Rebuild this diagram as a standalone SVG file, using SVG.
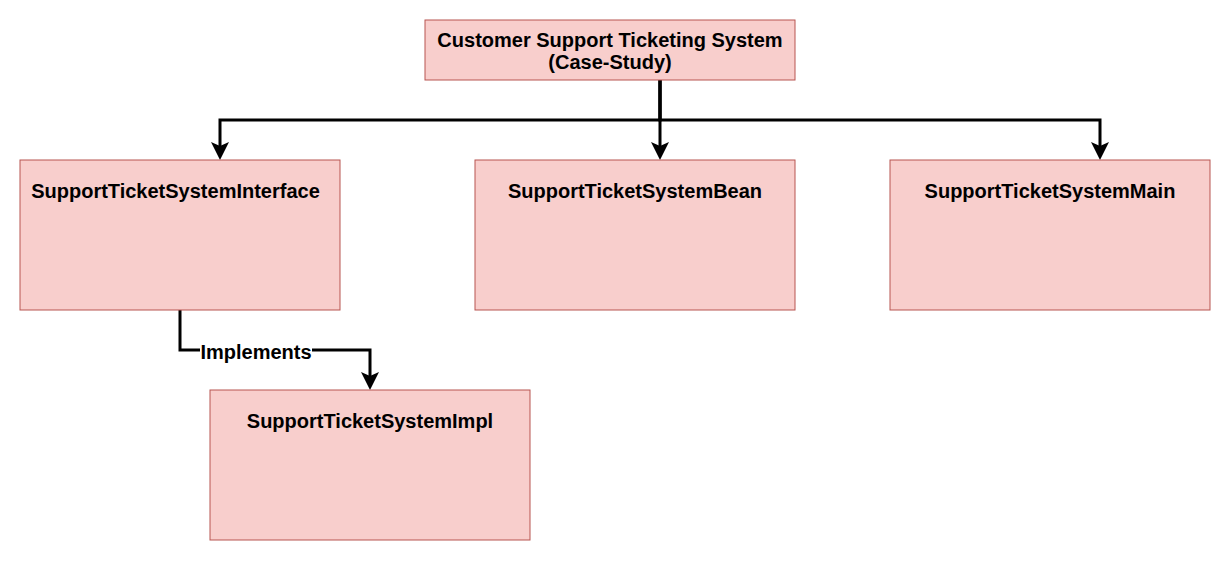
<svg xmlns="http://www.w3.org/2000/svg" width="1231" height="561" viewBox="0 0 1231 561">
  <style>
    .box { fill: #f8cecc; stroke: #b85450; stroke-width: 1; }
    .lbl { font-family: "Liberation Sans", Arial, sans-serif; font-weight: bold; font-size: 20px; fill: #000; text-anchor: middle; }
    .edge { fill: none; stroke: #000; stroke-width: 3; stroke-linejoin: miter; }
  </style>
  <defs>
    <marker id="arr" markerUnits="userSpaceOnUse" markerWidth="18" markerHeight="18" viewBox="0 0 18 18" refX="12" refY="9" orient="auto">
      <path d="M0,0 L18,9 L0,18 L4,9 Z" fill="#000"/>
    </marker>
  </defs>
  <rect width="1231" height="561" fill="#ffffff"/>

  <g id="connectors">
    <path class="edge" d="M660,80 V154" marker-end="url(#arr)"/>
    <path class="edge" d="M660,80 V120 H220 V154" marker-end="url(#arr)"/>
    <path class="edge" d="M660,80 V120 H1100 V154" marker-end="url(#arr)"/>
    <path class="edge" d="M180,310 V350 H370 V384" marker-end="url(#arr)"/>
    <rect x="200" y="340" width="112" height="22" fill="#ffffff"/>
    <text class="lbl" x="256" y="359">Implements</text>
  </g>

  <g id="root">
    <rect class="box" x="425" y="20" width="370" height="60"/>
    <text class="lbl" x="610" y="47">Customer Support Ticketing System</text>
    <text class="lbl" x="610" y="69">(Case-Study)</text>
  </g>

  <g id="interface">
    <rect class="box" x="20" y="160" width="320" height="150"/>
    <text class="lbl" x="175.5" y="198">SupportTicketSystemInterface</text>
  </g>

  <g id="bean">
    <rect class="box" x="475" y="160" width="320" height="150"/>
    <text class="lbl" x="635" y="198">SupportTicketSystemBean</text>
  </g>

  <g id="main">
    <rect class="box" x="890" y="160" width="320" height="150"/>
    <text class="lbl" x="1050" y="198">SupportTicketSystemMain</text>
  </g>

  <g id="impl">
    <rect class="box" x="210" y="390" width="320" height="150"/>
    <text class="lbl" x="370" y="428">SupportTicketSystemImpl</text>
  </g>
</svg>
